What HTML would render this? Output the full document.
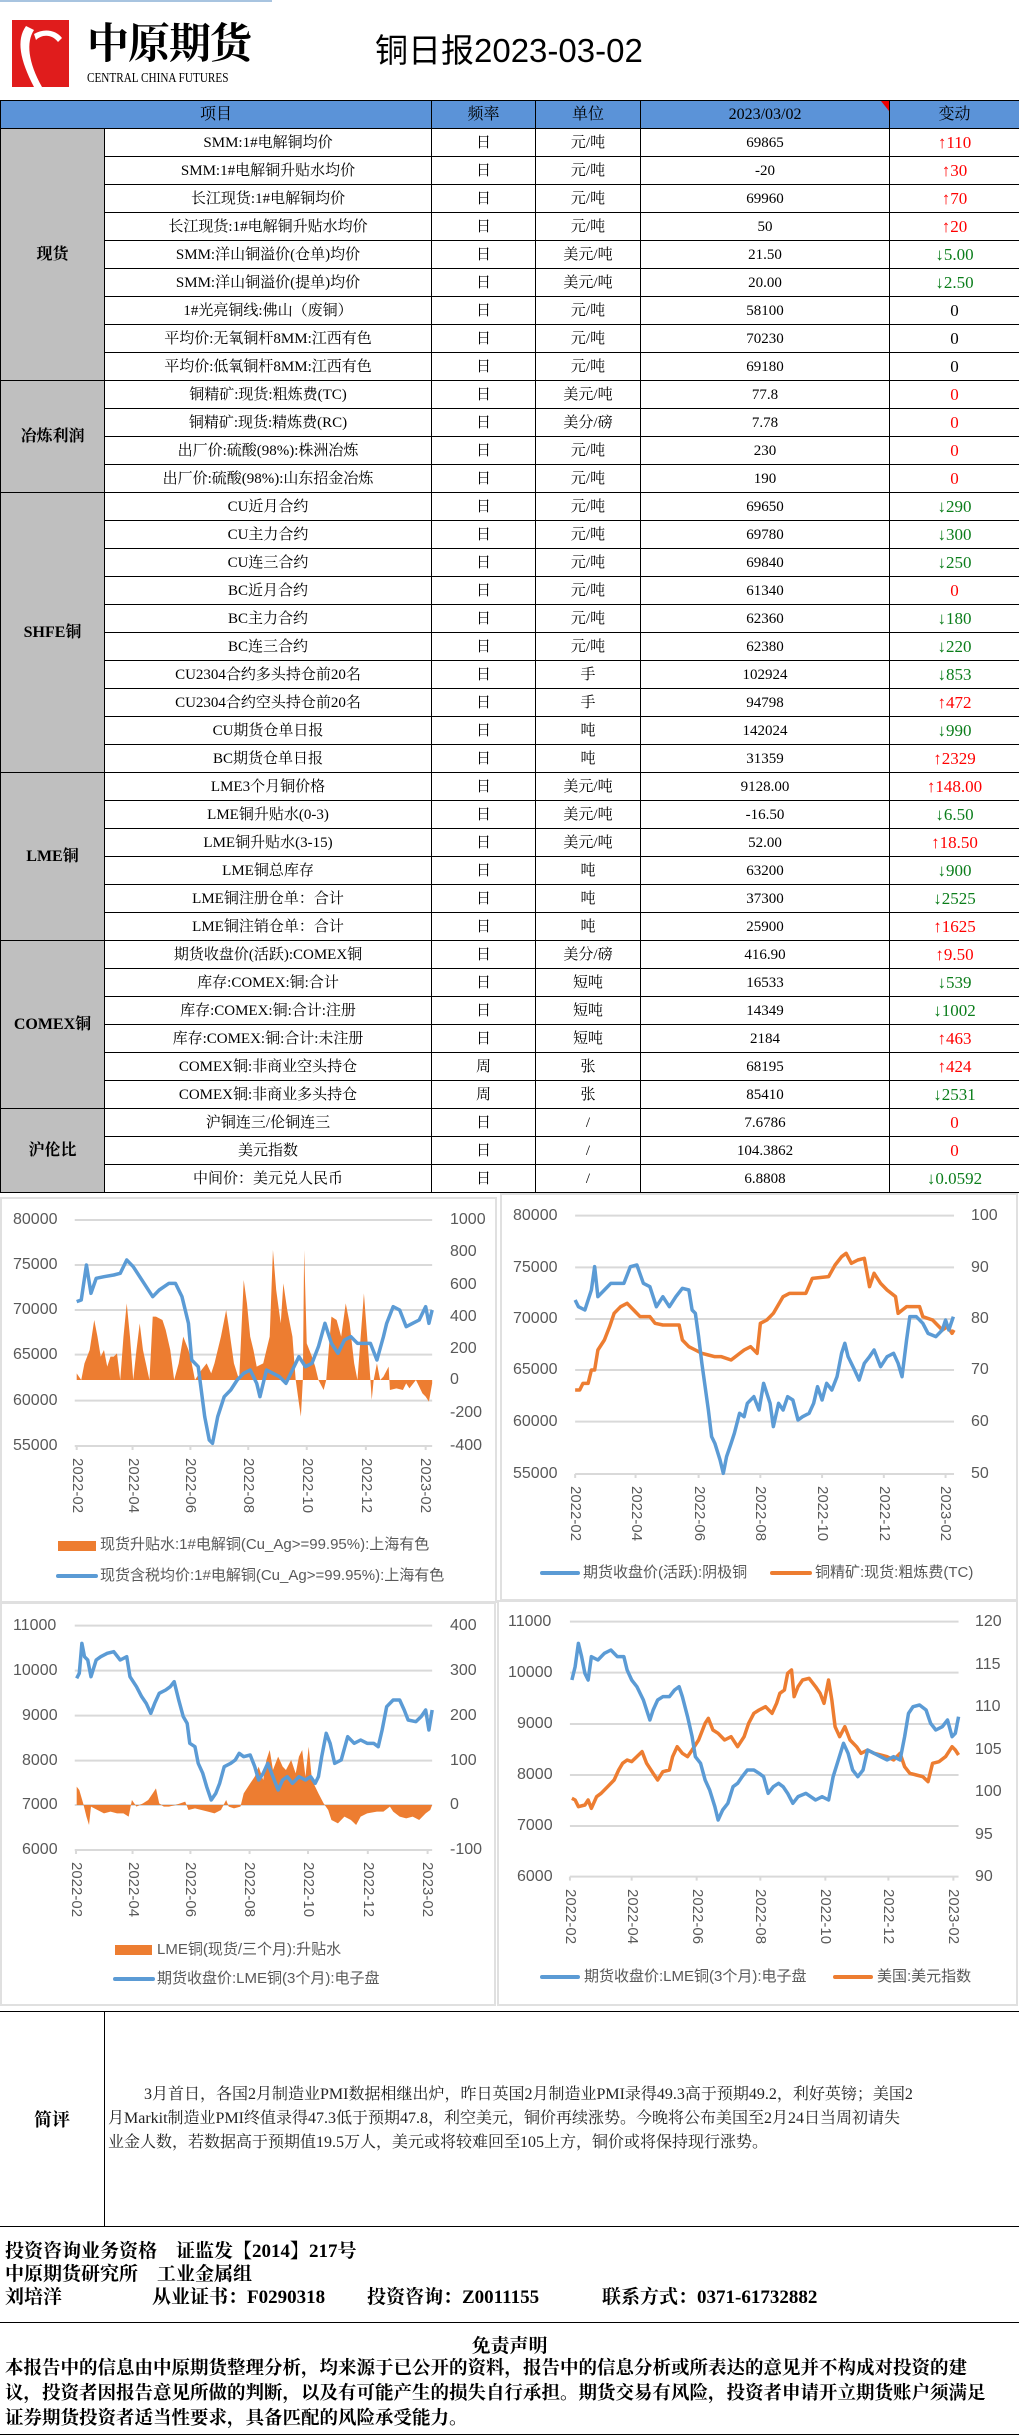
<!DOCTYPE html>
<html><head><meta charset="utf-8">
<style>
*{margin:0;padding:0;box-sizing:border-box}
body{width:1019px;height:2436px;position:relative;background:#fff;font-family:"Liberation Sans","Noto Sans CJK SC",sans-serif;color:#000;overflow:hidden}
.abs{position:absolute;white-space:nowrap}
table{position:absolute;left:0;top:100px;border-collapse:collapse;table-layout:fixed;width:1019px}
td{border:1px solid #000;height:28px;text-align:center;font-size:15px;line-height:26px;white-space:nowrap;overflow:hidden;font-family:"Liberation Serif","Noto Serif CJK SC",serif}
td:last-child{font-size:17px}
tr.h td{background:#5b93d8;font-size:16px}
td.cat{background:#bfbfbf;font-weight:bold;font-size:16px}
.r{color:#f00}.g{color:#0a7d1a}
.yl{position:absolute;font-size:16px;color:#595959;line-height:16px;transform:translateY(-8px)}
.xl{position:absolute;font-size:15px;color:#595959;writing-mode:vertical-rl;line-height:16px}
.lg{position:absolute;font-size:15px;color:#595959;line-height:16px;transform:translateY(-8px);white-space:nowrap}
.box{position:absolute;border:2px solid #e0e0e0}
</style></head><body>
<div class="abs" style="left:0;top:0;width:272px;height:98px;border-top:2px solid #a8c4e0"></div>
<svg class="abs" style="left:12px;top:20px" width="57" height="67" viewBox="0 0 57 67"><rect width="57" height="67" fill="#e01c1c"/><path d="M14 6 C4 20 8 40 22 67 L30 67 C16 42 14 22 22 10 Z" fill="#fff"/><path d="M22 14 C32 8 44 10 50 18 L46 22 C40 14 30 14 24 20 Z" fill="#fff"/></svg>
<div class="abs" style="left:87px;top:16px;font-size:42px;font-weight:bold;font-family:'Noto Serif CJK SC',serif;letter-spacing:-1px;line-height:50px">中原期货</div>
<div class="abs" style="left:87px;top:71px;font-size:14px;font-family:'Liberation Serif',serif;line-height:15px;transform:scaleX(0.8);transform-origin:left">CENTRAL CHINA FUTURES</div>
<div class="abs" style="left:375px;top:32px;font-size:33px;line-height:38px;font-family:'Liberation Sans','Noto Sans CJK SC',sans-serif">铜日报2023-03-02</div>

<table>
<colgroup><col style="width:104px"><col style="width:327px"><col style="width:104px"><col style="width:105px"><col style="width:249px"><col style="width:130px"></colgroup>
<tr class="h"><td colspan="2">项目</td><td>频率</td><td>单位</td><td style="position:relative">2023/03/02<span style="position:absolute;right:0;top:0;width:0;height:0;border-left:8px solid transparent;border-top:10px solid #e00"></span></td><td style="font-size:16px">变动</td></tr>
<tr><td class="cat" rowspan="9">现货</td><td>SMM:1#电解铜均价</td><td>日</td><td>元/吨</td><td>69865</td><td class="r">↑110</td></tr>
<tr><td>SMM:1#电解铜升贴水均价</td><td>日</td><td>元/吨</td><td>-20</td><td class="r">↑30</td></tr>
<tr><td>长江现货:1#电解铜均价</td><td>日</td><td>元/吨</td><td>69960</td><td class="r">↑70</td></tr>
<tr><td>长江现货:1#电解铜升贴水均价</td><td>日</td><td>元/吨</td><td>50</td><td class="r">↑20</td></tr>
<tr><td>SMM:洋山铜溢价(仓单)均价</td><td>日</td><td>美元/吨</td><td>21.50</td><td class="g">↓5.00</td></tr>
<tr><td>SMM:洋山铜溢价(提单)均价</td><td>日</td><td>美元/吨</td><td>20.00</td><td class="g">↓2.50</td></tr>
<tr><td>1#光亮铜线:佛山（废铜）</td><td>日</td><td>元/吨</td><td>58100</td><td>0</td></tr>
<tr><td>平均价:无氧铜杆8MM:江西有色</td><td>日</td><td>元/吨</td><td>70230</td><td>0</td></tr>
<tr><td>平均价:低氧铜杆8MM:江西有色</td><td>日</td><td>元/吨</td><td>69180</td><td>0</td></tr>
<tr><td class="cat" rowspan="4">冶炼利润</td><td>铜精矿:现货:粗炼费(TC)</td><td>日</td><td>美元/吨</td><td>77.8</td><td class="r">0</td></tr>
<tr><td>铜精矿:现货:精炼费(RC)</td><td>日</td><td>美分/磅</td><td>7.78</td><td class="r">0</td></tr>
<tr><td>出厂价:硫酸(98%):株洲冶炼</td><td>日</td><td>元/吨</td><td>230</td><td class="r">0</td></tr>
<tr><td>出厂价:硫酸(98%):山东招金冶炼</td><td>日</td><td>元/吨</td><td>190</td><td class="r">0</td></tr>
<tr><td class="cat" rowspan="10">SHFE铜</td><td>CU近月合约</td><td>日</td><td>元/吨</td><td>69650</td><td class="g">↓290</td></tr>
<tr><td>CU主力合约</td><td>日</td><td>元/吨</td><td>69780</td><td class="g">↓300</td></tr>
<tr><td>CU连三合约</td><td>日</td><td>元/吨</td><td>69840</td><td class="g">↓250</td></tr>
<tr><td>BC近月合约</td><td>日</td><td>元/吨</td><td>61340</td><td class="r">0</td></tr>
<tr><td>BC主力合约</td><td>日</td><td>元/吨</td><td>62360</td><td class="g">↓180</td></tr>
<tr><td>BC连三合约</td><td>日</td><td>元/吨</td><td>62380</td><td class="g">↓220</td></tr>
<tr><td>CU2304合约多头持仓前20名</td><td>日</td><td>手</td><td>102924</td><td class="g">↓853</td></tr>
<tr><td>CU2304合约空头持仓前20名</td><td>日</td><td>手</td><td>94798</td><td class="r">↑472</td></tr>
<tr><td>CU期货仓单日报</td><td>日</td><td>吨</td><td>142024</td><td class="g">↓990</td></tr>
<tr><td>BC期货仓单日报</td><td>日</td><td>吨</td><td>31359</td><td class="r">↑2329</td></tr>
<tr><td class="cat" rowspan="6">LME铜</td><td>LME3个月铜价格</td><td>日</td><td>美元/吨</td><td>9128.00</td><td class="r">↑148.00</td></tr>
<tr><td>LME铜升贴水(0-3)</td><td>日</td><td>美元/吨</td><td>-16.50</td><td class="g">↓6.50</td></tr>
<tr><td>LME铜升贴水(3-15)</td><td>日</td><td>美元/吨</td><td>52.00</td><td class="r">↑18.50</td></tr>
<tr><td>LME铜总库存</td><td>日</td><td>吨</td><td>63200</td><td class="g">↓900</td></tr>
<tr><td>LME铜注册仓单：合计</td><td>日</td><td>吨</td><td>37300</td><td class="g">↓2525</td></tr>
<tr><td>LME铜注销仓单：合计</td><td>日</td><td>吨</td><td>25900</td><td class="r">↑1625</td></tr>
<tr><td class="cat" rowspan="6">COMEX铜</td><td>期货收盘价(活跃):COMEX铜</td><td>日</td><td>美分/磅</td><td>416.90</td><td class="r">↑9.50</td></tr>
<tr><td>库存:COMEX:铜:合计</td><td>日</td><td>短吨</td><td>16533</td><td class="g">↓539</td></tr>
<tr><td>库存:COMEX:铜:合计:注册</td><td>日</td><td>短吨</td><td>14349</td><td class="g">↓1002</td></tr>
<tr><td>库存:COMEX:铜:合计:未注册</td><td>日</td><td>短吨</td><td>2184</td><td class="r">↑463</td></tr>
<tr><td>COMEX铜:非商业空头持仓</td><td>周</td><td>张</td><td>68195</td><td class="r">↑424</td></tr>
<tr><td>COMEX铜:非商业多头持仓</td><td>周</td><td>张</td><td>85410</td><td class="g">↓2531</td></tr>
<tr><td class="cat" rowspan="3">沪伦比</td><td>沪铜连三/伦铜连三</td><td>日</td><td>/</td><td>7.6786</td><td class="r">0</td></tr>
<tr><td>美元指数</td><td>日</td><td>/</td><td>104.3862</td><td class="r">0</td></tr>
<tr><td>中间价：美元兑人民币</td><td>日</td><td>/</td><td>6.8808</td><td class="g">↓0.0592</td></tr>
</table>

<div class="box" style="left:0;top:1197px;width:497px;height:406px"></div>
<div class="box" style="left:500px;top:1193px;width:518px;height:408px"></div>
<div class="box" style="left:0;top:1602px;width:496px;height:404px"></div>
<div class="box" style="left:497px;top:1600px;width:521px;height:406px"></div>

<svg class="abs" style="left:0;top:1150px" width="1019" height="460" viewBox="0 0 1568 1380" preserveAspectRatio="none">
<g stroke="#d9d9d9" stroke-width="2">
<path vector-effect="non-scaling-stroke" d="M115 210H665M115 345H665M115 480H665M115 614H665M115 752H665M115 888H665M885 197H1468M885 352H1468M885 507H1468M885 660H1468M885 815H1468M885 972H1468"/>
<path vector-effect="non-scaling-stroke" d="M118 888v12M204 888v12M293 888v12M382 888v12M472 888v12M563 888v12M655 888v12M885 972v12M978 972v12M1075 972v12M1170 972v12M1265 972v12M1360 972v12M1455 972v12"/>
</g>
<polygon fill="#ed7d31" points="118,690 118,670 125,690 130,640 138,600 145,510 150,560 155,620 160,600 165,650 170,620 175,620 180,610 185,690 190,560 195,460 200,560 205,690 210,600 215,520 220,600 230,690 235,500 240,500 250,510 255,540 262,600 268,690 275,640 282,560 290,600 295,640 300,690 310,660 318,640 325,670 330,640 340,560 348,480 352,530 360,640 368,690 375,390 380,460 385,560 390,600 395,650 405,640 415,560 420,300 425,420 432,520 436,400 442,480 450,560 455,690 460,760 463,800 466,690 468,300 472,580 480,620 485,650 490,690 498,720 502,690 510,500 518,510 525,560 532,460 538,520 545,640 550,690 555,560 560,430 565,560 570,690 572,750 575,690 580,640 585,690 590,680 598,650 600,720 610,715 620,720 625,700 630,715 640,690 645,710 650,730 655,740 660,755 665,700 665,690"/>
<polyline fill="none" stroke="#5b9bd5" stroke-width="3.5" vector-effect="non-scaling-stroke" stroke-linejoin="round" points="118,455 125,450 133,345 140,430 148,385 160,380 175,375 185,370 195,330 205,350 215,380 225,410 235,440 245,420 260,400 270,400 280,440 290,520 295,630 305,650 315,800 322,870 327,880 335,800 345,740 355,720 365,690 375,670 385,660 395,700 400,740 410,660 420,670 430,680 440,700 450,660 460,620 470,650 480,640 490,590 500,520 510,580 520,610 530,570 540,560 550,580 560,580 570,580 580,630 590,560 595,520 605,470 615,480 625,530 635,520 645,510 655,470 660,520 665,480"/>
<polyline fill="none" stroke="#ed7d31" stroke-width="3.5" vector-effect="non-scaling-stroke" stroke-linejoin="round" points="885,720 892,720 897,700 905,700 910,660 915,660 920,600 930,570 938,530 945,490 955,470 965,460 975,480 985,500 1000,500 1008,520 1020,525 1045,525 1050,570 1060,590 1070,600 1080,610 1090,615 1100,620 1110,620 1125,630 1135,615 1145,600 1155,590 1165,610 1170,520 1180,510 1190,490 1205,440 1215,430 1240,430 1250,385 1275,380 1285,345 1295,320 1302,310 1310,340 1320,330 1330,325 1338,410 1345,370 1355,400 1365,420 1378,440 1382,490 1395,470 1415,470 1420,500 1435,510 1450,540 1458,530 1465,550 1468,540"/>
<polyline fill="none" stroke="#5b9bd5" stroke-width="3.5" vector-effect="non-scaling-stroke" stroke-linejoin="round" points="885,450 890,470 900,480 910,420 915,350 920,440 930,420 940,400 950,400 960,400 970,350 980,345 990,400 1000,410 1010,470 1020,440 1030,470 1040,440 1050,415 1060,420 1065,480 1070,490 1075,560 1080,640 1085,710 1090,780 1095,860 1100,880 1108,930 1113,970 1118,920 1125,880 1130,850 1138,790 1145,800 1150,760 1160,740 1168,780 1175,700 1185,760 1190,830 1198,760 1205,780 1212,740 1220,750 1228,810 1235,800 1245,790 1252,760 1258,710 1265,750 1272,700 1280,720 1288,680 1295,610 1300,580 1305,620 1315,660 1322,690 1330,640 1338,620 1345,600 1355,650 1365,620 1375,610 1382,640 1388,680 1395,570 1400,500 1410,500 1420,520 1428,550 1440,560 1450,540 1455,510 1460,540 1467,500"/>
</svg>

<svg class="abs" style="left:0;top:1590px" width="1019" height="420" viewBox="0 0 1568 1260" preserveAspectRatio="none">
<g stroke="#d9d9d9" stroke-width="2">
<path vector-effect="non-scaling-stroke" d="M115 107H665M115 242H665M115 377H665M115 512H665M115 645H665M115 780H665M877 95H1475M877 248H1475M877 402H1475M877 555H1475M877 708H1475M877 860H1475"/>
<path vector-effect="non-scaling-stroke" d="M117 780v12M204 780v12M293 780v12M384 780v12M474 780v12M566 780v12M658 780v12M877 860v12M972 860v12M1072 860v12M1170 860v12M1270 860v12M1367 860v12M1467 860v12"/>
</g>
<polygon fill="#ed7d31" points="118,645 118,590 122,600 128,640 133,680 137,705 140,650 150,660 160,670 170,665 180,670 190,670 198,680 203,630 210,650 220,640 228,630 235,610 240,595 245,640 252,650 260,650 270,645 285,635 290,660 300,655 310,660 320,665 330,670 340,660 348,630 352,650 360,655 370,650 375,610 385,580 392,560 398,530 405,570 410,510 415,480 420,540 428,500 435,530 440,540 448,510 455,550 460,500 465,480 470,560 475,470 480,570 490,610 498,640 505,660 510,690 520,700 530,680 540,690 548,705 555,680 565,670 580,665 590,665 600,650 605,665 615,680 625,685 635,680 645,690 655,670 662,660 665,645"/>
<polyline fill="none" stroke="#5b9bd5" stroke-width="3.5" vector-effect="non-scaling-stroke" stroke-linejoin="round" points="118,265 122,250 126,160 130,200 135,210 140,260 148,210 155,200 165,190 175,185 185,210 195,200 200,260 210,290 218,320 225,340 232,370 238,340 245,310 255,300 262,290 268,275 275,330 282,380 288,400 292,460 300,470 305,520 312,550 318,590 325,630 332,610 338,580 345,530 355,520 362,510 368,490 375,500 385,495 392,530 398,570 405,550 412,520 420,560 428,600 435,570 442,560 450,580 460,560 470,570 478,560 485,580 490,560 495,500 502,430 508,460 515,520 525,510 535,440 545,460 555,450 565,460 575,460 582,470 588,420 595,350 605,330 615,330 622,360 628,390 640,395 648,380 655,360 660,420 665,360"/>
<polyline fill="none" stroke="#ed7d31" stroke-width="3.5" vector-effect="non-scaling-stroke" stroke-linejoin="round" points="880,625 885,630 890,650 900,645 905,630 910,655 918,620 925,610 935,590 945,570 952,540 958,520 965,510 972,515 980,500 988,485 995,520 1005,550 1012,570 1020,545 1030,540 1035,500 1042,470 1050,490 1058,500 1065,480 1075,450 1085,400 1090,385 1097,420 1105,430 1115,450 1125,440 1135,470 1145,440 1152,400 1160,370 1168,360 1178,350 1188,370 1195,340 1200,310 1207,300 1212,250 1218,240 1222,320 1228,290 1235,270 1245,265 1255,290 1262,310 1268,340 1275,270 1280,330 1285,410 1292,440 1300,410 1308,450 1318,470 1325,490 1335,480 1345,490 1355,495 1365,500 1375,510 1385,490 1392,530 1400,550 1410,555 1420,560 1428,575 1435,520 1445,515 1455,500 1465,470 1470,480 1475,495"/>
<polyline fill="none" stroke="#5b9bd5" stroke-width="3.5" vector-effect="non-scaling-stroke" stroke-linejoin="round" points="880,270 885,230 890,160 895,200 900,250 905,270 910,200 920,210 930,190 940,180 950,200 960,200 965,240 972,270 980,290 990,330 1000,390 1005,360 1012,330 1020,320 1030,320 1038,300 1045,290 1050,320 1058,380 1065,440 1070,500 1078,520 1085,570 1092,600 1100,650 1105,690 1112,660 1120,640 1128,590 1135,580 1142,560 1150,540 1160,540 1168,550 1175,560 1182,610 1190,590 1198,580 1205,590 1212,610 1220,640 1228,620 1240,610 1255,630 1265,620 1275,630 1282,560 1290,510 1298,460 1305,490 1312,540 1320,560 1328,540 1335,480 1345,490 1355,500 1365,510 1375,500 1385,510 1392,440 1398,370 1405,350 1415,345 1425,360 1432,400 1440,420 1450,410 1458,390 1465,440 1470,430 1475,380"/>
</svg>

<div class="yl" style="left:13px;top:1220px">80000</div><div class="yl" style="left:13px;top:1265px">75000</div><div class="yl" style="left:13px;top:1310px">70000</div><div class="yl" style="left:13px;top:1355px">65000</div><div class="yl" style="left:13px;top:1401px">60000</div><div class="yl" style="left:13px;top:1446px">55000</div>
<div class="yl" style="left:450px;top:1220px">1000</div><div class="yl" style="left:450px;top:1252px">800</div><div class="yl" style="left:450px;top:1285px">600</div><div class="yl" style="left:450px;top:1317px">400</div><div class="yl" style="left:450px;top:1349px">200</div><div class="yl" style="left:450px;top:1380px">0</div><div class="yl" style="left:450px;top:1413px">-200</div><div class="yl" style="left:450px;top:1446px">-400</div>
<div class="xl" style="left:69px;top:1458px">2022-02</div><div class="xl" style="left:125px;top:1458px">2022-04</div><div class="xl" style="left:182px;top:1458px">2022-06</div><div class="xl" style="left:240px;top:1458px">2022-08</div><div class="xl" style="left:299px;top:1458px">2022-10</div><div class="xl" style="left:358px;top:1458px">2022-12</div><div class="xl" style="left:417px;top:1458px">2023-02</div>
<div class="abs" style="left:58px;top:1541px;width:38px;height:10px;background:#ed7d31"></div>
<div class="lg" style="left:100px;top:1545px">现货升贴水:1#电解铜(Cu_Ag&gt;=99.95%):上海有色</div>
<div class="abs" style="left:56px;top:1574px;width:42px;height:4px;background:#5b9bd5;border-radius:2px"></div>
<div class="lg" style="left:100px;top:1576px">现货含税均价:1#电解铜(Cu_Ag&gt;=99.95%):上海有色</div>

<div class="yl" style="left:513px;top:1216px">80000</div><div class="yl" style="left:513px;top:1268px">75000</div><div class="yl" style="left:513px;top:1319px">70000</div><div class="yl" style="left:513px;top:1370px">65000</div><div class="yl" style="left:513px;top:1422px">60000</div><div class="yl" style="left:513px;top:1474px">55000</div>
<div class="yl" style="left:971px;top:1216px">100</div><div class="yl" style="left:971px;top:1268px">90</div><div class="yl" style="left:971px;top:1319px">80</div><div class="yl" style="left:971px;top:1370px">70</div><div class="yl" style="left:971px;top:1422px">60</div><div class="yl" style="left:971px;top:1474px">50</div>
<div class="xl" style="left:567px;top:1486px">2022-02</div><div class="xl" style="left:628px;top:1486px">2022-04</div><div class="xl" style="left:691px;top:1486px">2022-06</div><div class="xl" style="left:752px;top:1486px">2022-08</div><div class="xl" style="left:814px;top:1486px">2022-10</div><div class="xl" style="left:876px;top:1486px">2022-12</div><div class="xl" style="left:937px;top:1486px">2023-02</div>
<div class="abs" style="left:540px;top:1571px;width:40px;height:4px;background:#5b9bd5;border-radius:2px"></div>
<div class="lg" style="left:583px;top:1573px">期货收盘价(活跃):阴极铜</div>
<div class="abs" style="left:770px;top:1571px;width:42px;height:4px;background:#ed7d31;border-radius:2px"></div>
<div class="lg" style="left:815px;top:1573px">铜精矿:现货:粗炼费(TC)</div>

<div class="yl" style="left:13px;top:1626px">11000</div><div class="yl" style="left:13px;top:1671px">10000</div><div class="yl" style="left:22px;top:1716px">9000</div><div class="yl" style="left:22px;top:1761px">8000</div><div class="yl" style="left:22px;top:1805px">7000</div><div class="yl" style="left:22px;top:1850px">6000</div>
<div class="yl" style="left:450px;top:1626px">400</div><div class="yl" style="left:450px;top:1671px">300</div><div class="yl" style="left:450px;top:1716px">200</div><div class="yl" style="left:450px;top:1761px">100</div><div class="yl" style="left:450px;top:1805px">0</div><div class="yl" style="left:450px;top:1850px">-100</div>
<div class="xl" style="left:68px;top:1862px">2022-02</div><div class="xl" style="left:125px;top:1862px">2022-04</div><div class="xl" style="left:182px;top:1862px">2022-06</div><div class="xl" style="left:241px;top:1862px">2022-08</div><div class="xl" style="left:300px;top:1862px">2022-10</div><div class="xl" style="left:360px;top:1862px">2022-12</div><div class="xl" style="left:419px;top:1862px">2023-02</div>
<div class="abs" style="left:115px;top:1945px;width:37px;height:10px;background:#ed7d31"></div>
<div class="lg" style="left:157px;top:1950px">LME铜(现货/三个月):升贴水</div>
<div class="abs" style="left:113px;top:1977px;width:42px;height:4px;background:#5b9bd5;border-radius:2px"></div>
<div class="lg" style="left:157px;top:1979px">期货收盘价:LME铜(3个月):电子盘</div>

<div class="yl" style="left:508px;top:1622px">11000</div><div class="yl" style="left:508px;top:1673px">10000</div><div class="yl" style="left:517px;top:1724px">9000</div><div class="yl" style="left:517px;top:1775px">8000</div><div class="yl" style="left:517px;top:1826px">7000</div><div class="yl" style="left:517px;top:1877px">6000</div>
<div class="yl" style="left:975px;top:1622px">120</div><div class="yl" style="left:975px;top:1665px">115</div><div class="yl" style="left:975px;top:1707px">110</div><div class="yl" style="left:975px;top:1750px">105</div><div class="yl" style="left:975px;top:1792px">100</div><div class="yl" style="left:975px;top:1835px">95</div><div class="yl" style="left:975px;top:1877px">90</div>
<div class="xl" style="left:562px;top:1889px">2022-02</div><div class="xl" style="left:624px;top:1889px">2022-04</div><div class="xl" style="left:689px;top:1889px">2022-06</div><div class="xl" style="left:752px;top:1889px">2022-08</div><div class="xl" style="left:817px;top:1889px">2022-10</div><div class="xl" style="left:880px;top:1889px">2022-12</div><div class="xl" style="left:945px;top:1889px">2023-02</div>
<div class="abs" style="left:540px;top:1975px;width:40px;height:4px;background:#5b9bd5;border-radius:2px"></div>
<div class="lg" style="left:584px;top:1977px">期货收盘价:LME铜(3个月):电子盘</div>
<div class="abs" style="left:833px;top:1975px;width:40px;height:4px;background:#ed7d31;border-radius:2px"></div>
<div class="lg" style="left:877px;top:1977px">美国:美元指数</div>

<div class="abs" style="left:0;top:2011px;width:1019px;height:216px;border-top:1px solid #000;border-bottom:1px solid #000"></div>
<div class="abs" style="left:104px;top:2011px;width:1px;height:216px;background:#000"></div>
<div class="abs" style="left:0;top:2106px;width:104px;text-align:center;font-size:18px;font-weight:bold;font-family:'Liberation Serif','Noto Serif CJK SC',serif">简评</div>
<div class="abs" style="left:108px;top:2083px;font-size:16px;line-height:24px;color:#222;font-family:'Liberation Serif','Noto Serif CJK SC',serif">
<div style="padding-left:36px">3月首日，各国2月制造业PMI数据相继出炉，昨日英国2月制造业PMI录得49.3高于预期49.2，利好英镑；美国2</div>
<div>月Markit制造业PMI终值录得47.3低于预期47.8，利空美元，铜价再续涨势。今晚将公布美国至2月24日当周初请失</div>
<div>业金人数，若数据高于预期值19.5万人，美元或将较难回至105上方，铜价或将保持现行涨势。</div>
</div>
<div class="abs" style="left:5px;top:2240px;font-size:19px;line-height:23px;font-weight:bold;font-family:'Liberation Serif','Noto Serif CJK SC',serif">
<div>投资咨询业务资格　证监发【2014】217号</div>
<div>中原期货研究所　工业金属组</div>
<div style="position:relative;height:23px"><span style="position:absolute;left:0">刘培洋</span><span style="position:absolute;left:147px">从业证书：F0290318</span><span style="position:absolute;left:362px">投资咨询：Z0011155</span><span style="position:absolute;left:597px">联系方式：0371-61732882</span></div>
</div>
<div class="abs" style="left:0;top:2322px;width:1019px;height:1px;background:#000"></div>
<div class="abs" style="left:0;top:2331px;width:1019px;text-align:center;font-size:19px;font-weight:bold;font-family:'Liberation Serif','Noto Serif CJK SC',serif">免责声明</div>
<div class="abs" style="left:5px;top:2357px;width:1010px;font-size:18.5px;line-height:25px;font-weight:bold;font-family:'Liberation Serif','Noto Serif CJK SC',serif">
<div>本报告中的信息由中原期货整理分析，均来源于已公开的资料，报告中的信息分析或所表达的意见并不构成对投资的建</div>
<div>议，投资者因报告意见所做的判断，以及有可能产生的损失自行承担。期货交易有风险，投资者申请开立期货账户须满足</div>
<div>证券期货投资者适当性要求，具备匹配的风险承受能力。</div>
</div>
<div class="abs" style="left:0;top:2434px;width:1019px;height:1px;background:#000"></div>
</body></html>
